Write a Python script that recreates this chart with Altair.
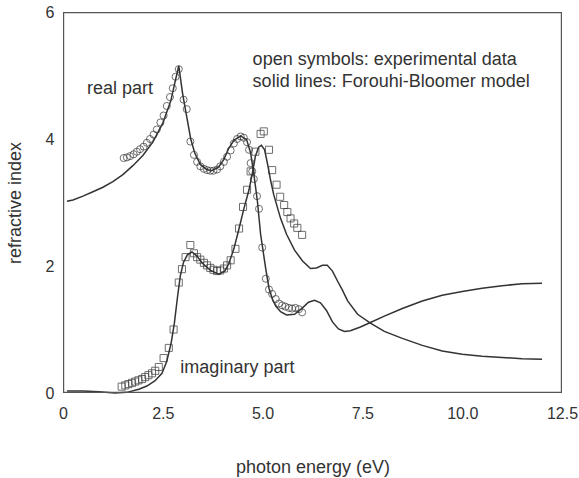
import altair as alt
import pandas as pd

# experimental real part (open circles)
re_exp_E = [1.52, 1.60, 1.68, 1.77, 1.85, 1.93, 2.02, 2.10, 2.18, 2.27, 2.35, 2.44, 2.52, 2.60,
            2.68, 2.75, 2.82, 2.90, 3.02, 3.10, 3.19, 3.28, 3.36, 3.44, 3.53, 3.61, 3.69, 3.77,
            3.86, 3.94, 4.03, 4.11, 4.20, 4.28, 4.36, 4.45, 4.53, 4.61, 4.66, 4.70, 4.74, 4.78,
            4.86, 4.91, 4.99, 5.08, 5.16, 5.24, 5.33, 5.41, 5.49, 5.57, 5.66, 5.74, 5.82, 5.91, 5.99]
re_exp_n = [3.70, 3.71, 3.73, 3.76, 3.80, 3.84, 3.88, 3.94, 4.00, 4.07, 4.15, 4.26, 4.37, 4.52,
            4.66, 4.80, 4.98, 5.10, 4.62, 4.47, 3.96, 3.75, 3.64, 3.57, 3.53, 3.51, 3.50, 3.50,
            3.52, 3.57, 3.64, 3.72, 3.82, 3.93, 4.00, 4.04, 4.02, 3.95, 3.83, 3.62, 3.49, 3.37,
            3.10, 2.90, 2.29, 1.80, 1.63, 1.56, 1.48, 1.41, 1.38, 1.36, 1.34, 1.33, 1.34, 1.32, 1.27]

# experimental imaginary part (open squares)
im_exp_E = [1.47, 1.56, 1.64, 1.73, 1.81, 1.89, 1.98, 2.06, 2.14, 2.23, 2.31, 2.40, 2.52, 2.65,
            2.77, 2.90, 2.98, 3.07, 3.19, 3.28, 3.36, 3.44, 3.53, 3.61, 3.69, 3.77, 3.86, 3.94,
            4.03, 4.11, 4.20, 4.32, 4.41, 4.51, 4.61, 4.70, 4.82, 4.95, 5.03, 5.16, 5.24, 5.35,
            5.44, 5.54, 5.62, 5.70, 5.79, 5.87, 5.99]
im_exp_n = [0.10, 0.12, 0.14, 0.16, 0.18, 0.20, 0.22, 0.25, 0.28, 0.31, 0.35, 0.41, 0.55, 0.71,
            1.00, 1.74, 1.95, 2.14, 2.33, 2.20, 2.14, 2.10, 2.05, 2.01, 1.97, 1.94, 1.92, 1.93,
            1.96, 2.01, 2.09, 2.27, 2.59, 2.93, 3.20, 3.49, 3.80, 4.08, 4.12, 3.83, 3.51, 3.28,
            3.09, 2.96, 2.85, 2.75, 2.67, 2.60, 2.49]

# Forouhi-Bloomer model, real part
re_mod_E = [0.10, 0.25, 0.5, 0.75, 1.0, 1.25, 1.5, 1.75, 2.0, 2.25, 2.5, 2.7, 2.8, 2.9, 3.0,
            3.1, 3.2, 3.3, 3.44, 3.6, 3.73, 3.9, 4.03, 4.15, 4.28, 4.45, 4.6, 4.7, 4.78, 4.87,
            4.95, 5.08, 5.16, 5.25, 5.33, 5.45, 5.6, 5.8, 6.0, 6.15, 6.3, 6.45, 6.6, 6.75, 6.9,
            7.05, 7.2, 7.45, 7.7, 8.05, 8.5, 9.0, 9.5, 10.0, 10.5, 11.0, 11.5, 12.0]
re_mod_n = [3.02, 3.04, 3.10, 3.17, 3.24, 3.33, 3.44, 3.58, 3.74, 3.95, 4.25, 4.60, 4.88, 5.15, 4.70,
            4.35, 4.00, 3.78, 3.60, 3.52, 3.50, 3.56, 3.68, 3.85, 3.98, 4.05, 3.99, 3.78, 3.45, 3.02,
            2.50, 1.95, 1.65, 1.47, 1.37, 1.28, 1.23, 1.24, 1.34, 1.43, 1.46, 1.42, 1.30, 1.12, 1.01,
            0.97, 0.98, 1.04, 1.11, 1.21, 1.33, 1.45, 1.54, 1.60, 1.65, 1.69, 1.72, 1.73]

# Forouhi-Bloomer model, imaginary part
im_mod_E = [0.10, 0.5, 0.9, 1.3, 1.6, 1.9, 2.1, 2.3, 2.48, 2.6, 2.71, 2.79, 2.87, 2.94, 3.02,
            3.12, 3.23, 3.35, 3.5, 3.7, 3.9, 4.05, 4.15, 4.28, 4.41, 4.53, 4.66, 4.74, 4.82, 4.9,
            4.97, 5.05, 5.12, 5.2, 5.28, 5.45, 5.6, 5.8, 6.0, 6.2, 6.35, 6.5, 6.62, 6.75, 6.88,
            7.0, 7.13, 7.38, 7.7, 8.05, 8.5, 9.0, 9.5, 10.0, 10.5, 11.0, 11.5, 12.0]
im_mod_n = [0.03, 0.03, 0.02, 0.00, 0.01, 0.06, 0.11, 0.19, 0.31, 0.50, 0.79, 1.10, 1.52, 1.85, 2.06,
            2.18, 2.22, 2.16, 2.04, 1.93, 1.87, 1.92, 2.03, 2.27, 2.59, 2.90, 3.20, 3.45, 3.73, 3.87,
            3.90, 3.83, 3.62, 3.35, 3.12, 2.75, 2.50, 2.25, 2.08, 1.96, 1.97, 2.01, 2.01, 1.92, 1.76,
            1.62, 1.45, 1.24, 1.10, 0.97, 0.86, 0.75, 0.66, 0.61, 0.58, 0.56, 0.54, 0.53]

# annotations
note_text = ["real part", "imaginary part", "open symbols: experimental data",
             "solid lines: Forouhi-Bloomer model"]
note_E = [1.43, 2.94, 4.75, 4.75]
note_n = [4.78, 0.40, 5.24, 4.89]
note_align = ["center", "left", "left", "left"]

# axis tick values
x_ticks = [0, 2.5, 5, 7.5, 10, 12.5]
y_ticks = [0, 2, 4, 6]

INK = "#333333"
FRAME = "#555555"
FONT = "Liberation Sans"
W, H = 499, 381

lines_df = pd.concat([
    pd.DataFrame({"E": re_mod_E, "n": re_mod_n, "s": "real"}),
    pd.DataFrame({"E": im_mod_E, "n": im_mod_n, "s": "imag"}),
])
circ_df = pd.DataFrame({"E": re_exp_E, "n": re_exp_n})
sq_df = pd.DataFrame({"E": im_exp_E, "n": im_exp_n})
notes_df = pd.DataFrame({"t": note_text, "E": note_E, "n": note_n, "a": note_align})

xscale = alt.Scale(domain=[0, 12.5], nice=False, zero=False)
yscale = alt.Scale(domain=[0, 6], nice=False, zero=False)

xaxis = alt.Axis(values=x_ticks,
                 labelExpr="datum.value == 0 ? '0' : format(datum.value, '.1f')",
                 title="photon energy (eV)", grid=False, domain=False, ticks=False,
                 labelFlush=False, labelPadding=12, labelFontSize=16, labelColor=INK,
                 labelFont=FONT,
                 titleFontSize=18, titleFontWeight="normal", titleColor=INK, titleFont=FONT,
                 titleY=74, titleBaseline="middle")
yaxis = alt.Axis(values=y_ticks, format="d", title="refractive index", grid=False, domain=False,
                 ticks=False, labelFlush=False, labelPadding=9, labelFontSize=16, labelColor=INK,
                 labelFont=FONT,
                 titleFontSize=18, titleFontWeight="normal", titleColor=INK,
                 titleFont=FONT, titleX=-48, titleBaseline="middle")

lines = alt.Chart(lines_df).mark_line(color=INK, strokeWidth=1.5).encode(
    x=alt.X("E:Q", scale=xscale, axis=xaxis),
    y=alt.Y("n:Q", scale=yscale, axis=yaxis),
    detail="s:N",
    order="E:Q",
)
circles = alt.Chart(circ_df).mark_point(shape="circle", filled=False, color=INK, size=50,
                                        strokeWidth=1).encode(
    x=alt.X("E:Q", scale=xscale), y=alt.Y("n:Q", scale=yscale))
squares = alt.Chart(sq_df).mark_point(shape="square", filled=False, color=INK, size=50,
                                      strokeWidth=1).encode(
    x=alt.X("E:Q", scale=xscale), y=alt.Y("n:Q", scale=yscale))

notes_c = alt.Chart(notes_df[notes_df.a == "center"]).mark_text(
    align="center", baseline="middle", fontSize=18, font=FONT, color=INK).encode(
    x=alt.X("E:Q", scale=xscale), y=alt.Y("n:Q", scale=yscale), text="t:N")
notes_l = alt.Chart(notes_df[notes_df.a == "left"]).mark_text(
    align="left", baseline="middle", fontSize=18, font=FONT, color=INK).encode(
    x=alt.X("E:Q", scale=xscale), y=alt.Y("n:Q", scale=yscale), text="t:N")

# plot frame: four rules just inside the plot box edges
one = pd.DataFrame({"k": [0]})
frame_top = alt.Chart(one).mark_rule(color=FRAME, strokeWidth=1.2).encode(
    x=alt.value(0), x2=alt.value(W), y=alt.value(0.6))
frame_bottom = alt.Chart(one).mark_rule(color=FRAME, strokeWidth=1.2).encode(
    x=alt.value(0), x2=alt.value(W), y=alt.value(H - 0.6))
frame_left = alt.Chart(one).mark_rule(color=FRAME, strokeWidth=1.2).encode(
    y=alt.value(0), y2=alt.value(H), x=alt.value(0.6))
frame_right = alt.Chart(one).mark_rule(color=FRAME, strokeWidth=1.2).encode(
    y=alt.value(0), y2=alt.value(H), x=alt.value(W - 0.6))

chart = alt.layer(lines, circles, squares, notes_c, notes_l,
                  frame_top, frame_bottom, frame_left, frame_right).properties(
    width=W, height=H,
    autosize=alt.AutoSizeParams(type="none"),
    padding={"left": 63, "top": 12, "right": 579 - 63 - W, "bottom": 478 - 12 - H},
).configure_view(stroke=None)

chart.save("out.html", embed_options={"renderer": "svg", "actions": False})
